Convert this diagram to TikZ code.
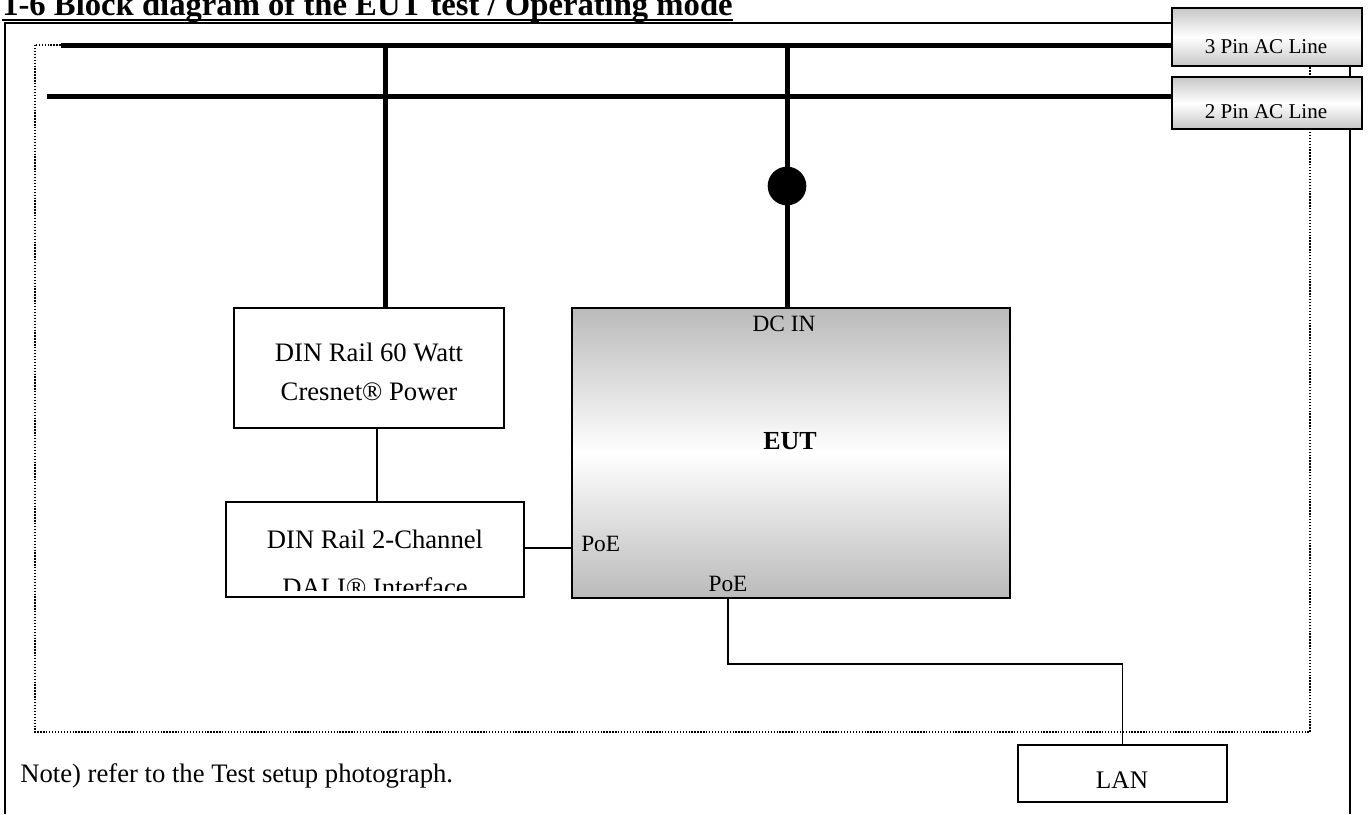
\documentclass[tikz,border=0pt]{standalone}
\usepackage{fontspec}
\setmainfont{Liberation Serif}
\usetikzlibrary{positioning, fit, calc, shadows}

\begin{document}
\begin{tikzpicture}[
    x=0.75pt, y=-0.75pt,
    box/.style={draw, line width=1.5pt, inner sep=0pt},
    acbox/.style={box, top color=black!22, bottom color=black!22,
                  middle color=white,
                  drop shadow={shadow xshift=1pt, shadow yshift=-1pt,
                               opacity=1, fill=black!70}},
    lbl/.style={inner sep=0pt, anchor=base, font=\fontsize{20}{22}\selectfont},
    smalllbl/.style={lbl, font=\fontsize{17.5}{19}\selectfont},
    aclbl/.style={lbl, font=\fontsize{15.8}{17}\selectfont},
    bus/.style={line width=3.75pt},
    wire/.style={line width=0.8pt},
    frame/.style={line width=1.5pt},
    dotframe/.style={line width=1.2pt, dash pattern=on 1pt off 1.2pt}
  ]
    \useasboundingbox (0,0) rectangle (1370,814);

    % heading
    \node[anchor=base west, inner sep=0pt,
          font=\bfseries\fontsize{24.5}{26}\selectfont] (title) at (2,15)
      {1-6 Block diagram of the EUT test / Operating mode};
    \draw[line width=1.5pt] ([yshift=-3.5pt]title.base west)
      -- ([yshift=-3.5pt]title.base east);

    % frames
    \draw[frame] (5,814) |- (1350,23) -- (1350,814);
    \draw[dotframe] (35,45) rectangle (1310,732);

    % AC lines
    \node[acbox, fit={(1172,8) (1362,66)}] (acthree) {};
    \node[aclbl] (acthreetext) at (1266,53) {3 Pin AC Line};
    \node[acbox, fit={(1172,77) (1362,129)}] (actwo) {};
    \node[aclbl] (actwotext) at (1266,118) {2 Pin AC Line};
    \coordinate (busa) at (61,45);
    \coordinate (busb) at (47,96);
    \draw[bus] (busa) -- (busa -| acthree.west);
    \draw[bus] (busb) -- (busb -| actwo.west);

    % power supply and DALI
    \node[box, fit={(234,308) (504,428)}] (psu) {};
    \node[lbl] (psua) at (369,361) {DIN Rail 60 Watt};
    \node[lbl] (psub) at (369,400) {Cresnet® Power};
    \node[box, fit={(226,502) (524,597)}] (dali) {};
    \begin{scope}
      \clip (dali.north west) rectangle ($(dali.south east)+(0,-8)$);
      \node[lbl] (dalia) at (375,548) {DIN Rail 2-Channel};
      \node[lbl] (dalib) at (375,596) {DALI® Interface};
    \end{scope}

    % EUT
    \node[box, fit={(572,308) (1010,598)}, top color=black!27,
          bottom color=black!27, middle color=white] (eut) {};
    \node[smalllbl] (dcin) at (784,331) {DC IN};
    \node[lbl, font=\bfseries\fontsize{19.5}{21}\selectfont]
      (euttext) at (790,449) {EUT};
    \node[smalllbl, anchor=base west] (poeside) at (581,551) {PoE};
    \node[smalllbl] (poebot) at (728,591) {PoE};

    % LAN
    \node[box, fit={(1018,745) (1227,802)}] (lan) {};
    \node[lbl, font=\fontsize{19}{21}\selectfont] (lantext) at (1122,788) {LAN};

    % power taps
    \coordinate (tappsu) at (385,45);
    \draw[bus] (tappsu) -- (tappsu |- psu.north);
    \node[circle, fill, inner sep=0pt, minimum size=29pt] (junction)
      at (787,186) {};
    \draw[bus] (junction |- busa) -- (junction |- eut.north);

    % signal wires
    \draw[wire] ([xshift=6pt]psu.south) -- ([xshift=6pt]psu.south |- dali.north);
    \draw[wire] (dali.east |- 0,548) -- (eut.west |- 0,548);
    \draw[wire] (eut.south -| poebot) -- ++(0,65) -| (lan.north);

    \node[lbl, anchor=base west] (note) at (20,782)
      {Note) refer to the Test setup photograph.};
  \end{tikzpicture}
\end{document}
